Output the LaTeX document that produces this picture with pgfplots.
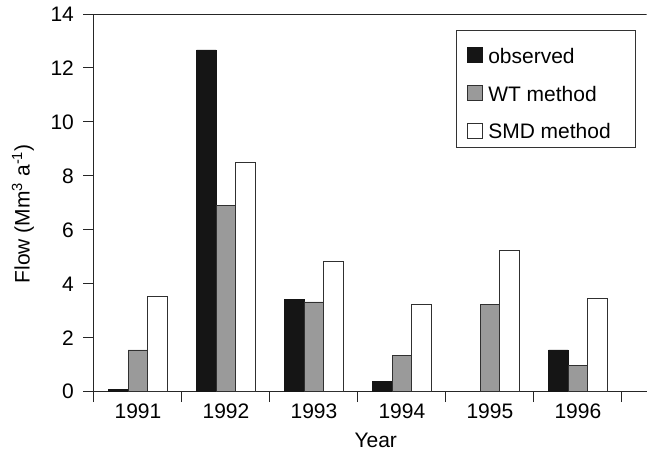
\documentclass[border=0pt]{standalone}
\usepackage{pgfplots}
\pgfplotsset{compat=1.18}
\usepackage{fontspec}
\setmainfont{Liberation Sans}
\definecolor{barblack}{HTML}{151515}
\definecolor{bargray}{HTML}{9A9A9A}
\definecolor{edge}{HTML}{303030}
\newcommand{\bigf}{\fontsize{21}{25}\selectfont}
\begin{document}
\begin{tikzpicture}
\path (-94pt,-60pt) rectangle (553pt,392pt);
\begin{axis}[
  scale only axis,
  width=553pt, height=378pt,
  font=\bigf,
  tick label style={font=\bigf},
  label style={font=\bigf},
  /pgf/number format/assume math mode=true,
  ybar=0pt, bar width=19.5pt,
  xmin=-0.5, xmax=5.78,
  ymin=0, ymax=14,
  ytick={0,2,...,14},
  xtick={-0.5,0.5,...,5.5},
  xticklabels={1991,1992,1993,1994,1995,1996},
  x tick label as interval,
  axis x line*=bottom, axis y line*=left,
  axis line style={-, line width=0.9pt, color=black!85},
  tick align=outside,
  major tick length=10.5pt,
  tick style={line width=0.9pt, color=black!85},
  yticklabel style={xshift=-6pt},
  xticklabel style={yshift=2pt},
  every axis x label/.style={at={(rel axis cs:0,0)}, xshift=282pt, yshift=-49pt, anchor=center},
  every axis y label/.style={at={(rel axis cs:0,0)}, xshift=-71pt, yshift=178pt, anchor=center, rotate=90},
  xlabel={Year},
  ylabel={Flow (Mm\textsuperscript{3} a\textsuperscript{-1})},
  legend style={at={(rel axis cs:0.674,0.915)}, anchor=north west, draw=none, fill=none,
    inner sep=0pt, row sep=17pt, font=\bigf},
  legend cell align=left,
  legend image code/.code={\draw[#1, line width=0.7pt] (0pt,-6pt) rectangle (15pt,9pt); \path (19pt,0pt);},
]
\addplot[fill=barblack, draw=barblack, line width=0.7pt] coordinates {(0,0.07) (1,12.67) (2,3.42) (3,0.38) (5,1.55)};
\addplot[fill=bargray, draw=edge, line width=0.7pt] coordinates {(0,1.55) (1,6.90) (2,3.33) (3,1.36) (4,3.25) (5,0.98)};
\addplot[fill=white, draw=edge, line width=0.7pt] coordinates {(0,3.55) (1,8.49) (2,4.85) (3,3.25) (4,5.25) (5,3.45)};
\legend{observed, WT method, SMD method}
\draw[line width=0.9pt, color=black!85] (rel axis cs:0,1) -- (rel axis cs:1,1);
\draw[line width=0.9pt, color=black!80] (rel axis cs:0.6564,0.6455) rectangle (rel axis cs:0.9801,0.9577);
\end{axis}
\end{tikzpicture}
\end{document}
